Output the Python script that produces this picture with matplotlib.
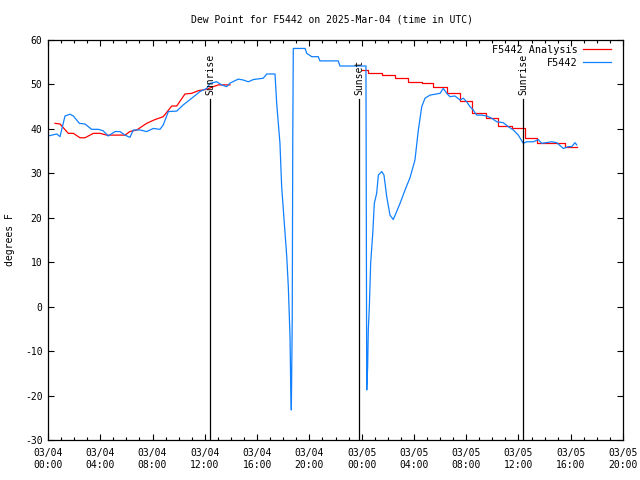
import matplotlib
matplotlib.use("Agg")
import matplotlib.pyplot as plt
import numpy as np

# hours since 2025-03-04 00:00 UTC
obs_hours = [0.0, 0.67, 0.92, 1.30, 1.68, 1.94, 2.40, 2.83, 3.34, 3.85, 4.21, 4.61, 5.13, 5.51,
             5.89, 6.27, 6.53, 7.04, 7.55, 8.06, 8.57, 8.82, 9.21, 9.85, 10.35, 11.00, 11.63,
             12.14, 12.40, 12.91, 13.29, 13.67, 13.93, 14.56, 14.94, 15.33, 15.71, 16.47, 16.74,
             17.37, 17.50, 17.75, 17.88, 18.01, 18.14, 18.27, 18.39, 18.52, 18.57, 18.62, 18.69,
             18.73, 18.77, 19.67, 19.80, 20.18, 20.68, 20.81, 22.21, 22.34, 24.33, 24.39, 24.46,
             24.51, 24.59, 24.69, 24.85, 24.97, 25.15, 25.28, 25.54, 25.71, 25.92, 26.17, 26.42,
             26.68, 26.94, 27.32, 27.70, 28.08, 28.34, 28.60, 28.85, 29.23, 30.00, 30.25, 30.51,
             30.76, 31.14, 31.53, 31.78, 32.04, 32.29, 32.54, 32.80, 33.19, 33.57, 33.95, 34.34,
             34.84, 35.22, 35.61, 35.99, 36.37, 36.63, 37.14, 37.52, 37.78, 38.54, 38.93, 39.43,
             39.81, 40.07, 40.33, 40.46]
obs_vals = [38.4, 38.85, 38.25, 42.9, 43.3, 42.9, 41.25, 41.1, 39.9, 39.9, 39.6, 38.4, 39.4, 39.4,
            38.6, 38.1, 39.75, 39.75, 39.4, 40.1, 39.9, 40.9, 43.9, 44.0, 45.4, 46.9, 48.4,
            49.1, 50.25, 50.6, 49.9, 49.5, 50.3, 51.2, 51.0, 50.6, 51.1, 51.4, 52.35,
            52.35, 45.75, 36.75, 27.0, 21.75, 16.5, 11.25, 4.5, -6.75, -17.25, -23.25, -2.6,
            37.5, 58.1, 58.1, 57.0, 56.25, 56.25, 55.3, 55.3, 54.15, 54.15, -18.75, -13.5,
            -5.25, 0.0, 9.75, 16.5, 23.25, 25.5, 29.6, 30.4, 29.6, 24.75, 20.6, 19.6,
            21.4, 23.25, 26.25, 29.0, 33.0, 39.75, 45.0, 46.9, 47.6, 48.0, 49.1, 48.0,
            47.25, 47.4, 46.5, 46.9, 46.1, 45.0, 44.25, 43.1, 43.1, 42.9, 42.4, 41.6,
            41.4, 40.5, 39.75, 38.6, 36.75, 37.1, 37.1, 37.6, 36.75, 37.1, 36.9, 35.6,
            36.0, 36.0, 36.9, 36.4]

ana1_hours = [0.54, 0.92, 1.55, 1.94, 2.45, 2.83, 3.47, 3.98, 4.49, 5.89, 6.27, 6.79, 7.55, 8.19,
              8.82, 9.47, 9.85, 10.48, 11.00, 11.50, 12.14, 12.65, 13.03, 13.93]
ana1_vals = [41.25, 41.1, 39.0, 39.0, 38.0, 38.0, 39.0, 39.0, 38.6, 38.6, 39.4, 39.75, 41.25, 42.1,
             42.75, 45.15, 45.15, 47.85, 48.0, 48.6, 48.9, 49.5, 49.9, 49.9]
ana2_hours = [24.00, 24.51, 25.54, 26.55, 27.57, 28.60, 29.48, 30.51, 31.53, 32.42, 33.48, 34.46,
              35.48, 36.50, 37.39, 39.56, 40.46]
ana2_vals = [53.25, 52.5, 52.1, 51.4, 50.6, 50.4, 49.35, 48.15, 46.3, 43.5, 42.4, 40.7,
             40.1, 37.9, 36.75, 35.85, 35.85]

sun_hours = [12.42, 23.82, 36.37]
sun_labels = ["Sunrise", "Sunset", "Sunrise"]

tick_hours = [0, 4, 8, 12, 16, 20, 24, 28, 32, 36, 40, 44]
tick_labels = ["03/04\n00:00", "03/04\n04:00", "03/04\n08:00", "03/04\n12:00", "03/04\n16:00",
               "03/04\n20:00", "03/05\n00:00", "03/05\n04:00", "03/05\n08:00", "03/05\n12:00",
               "03/05\n16:00", "03/05\n20:00"]

FONT = "DejaVu Sans Mono"
FS = 7
RED = "#ff0000"
BLUE = "#1080ff"

fig = plt.figure(figsize=(6.4, 4.8), dpi=100)
ax = fig.add_axes([48/640, 1-440/480, 575/640, 400/480])

ax.plot(ana1_hours, ana1_vals, color=RED, lw=0.9, label="F5442 Analysis")
ax.plot(ana2_hours, ana2_vals, color=RED, lw=0.9, drawstyle="steps-post")
ax.plot(obs_hours, obs_vals, color=BLUE, lw=0.9, label="F5442")

for h, lab in zip(sun_hours, sun_labels):
    ax.plot([h, h], [-30, 46.7], color="black", lw=0.9)
    ax.text(h, 47.6, lab, rotation=90, ha="center", va="bottom", fontsize=FS, family=FONT)

ax.set_xlim(0, 44)
ax.set_ylim(-30, 60)
ax.set_xticks(tick_hours)
ax.set_xticklabels(tick_labels, fontsize=FS, family=FONT)
ax.set_xticks(np.arange(0, 45, 1), minor=True)
ax.set_yticks(np.arange(-30, 61, 10))
ax.set_yticklabels([str(v) for v in range(-30, 61, 10)], fontsize=FS, family=FONT)
ax.tick_params(which="both", direction="in", top=True, right=True, width=0.8)
ax.tick_params(which="major", length=4, pad=4)
ax.tick_params(which="minor", length=2)
ax.tick_params(axis="x", pad=6)
for s in ax.spines.values():
    s.set_linewidth(0.9)

fig.text(332/640, 1-19/480, "Dew Point for F5442 on 2025-Mar-04 (time in UTC)",
         fontsize=FS, family=FONT, ha="center", va="center")
fig.text(10/640, 1-240/480, "degrees F", rotation=90, fontsize=FS, family=FONT,
         ha="center", va="center")

leg = ax.legend(loc="upper right", bbox_to_anchor=(611/640, 1-45/480),
                bbox_transform=fig.transFigure, markerfirst=False, frameon=False,
                prop={"family": FONT, "size": 7.3}, handlelength=2.8, borderpad=0,
                borderaxespad=0, labelspacing=0.3, handletextpad=0.5)

fig.savefig("out.png", dpi=100)
